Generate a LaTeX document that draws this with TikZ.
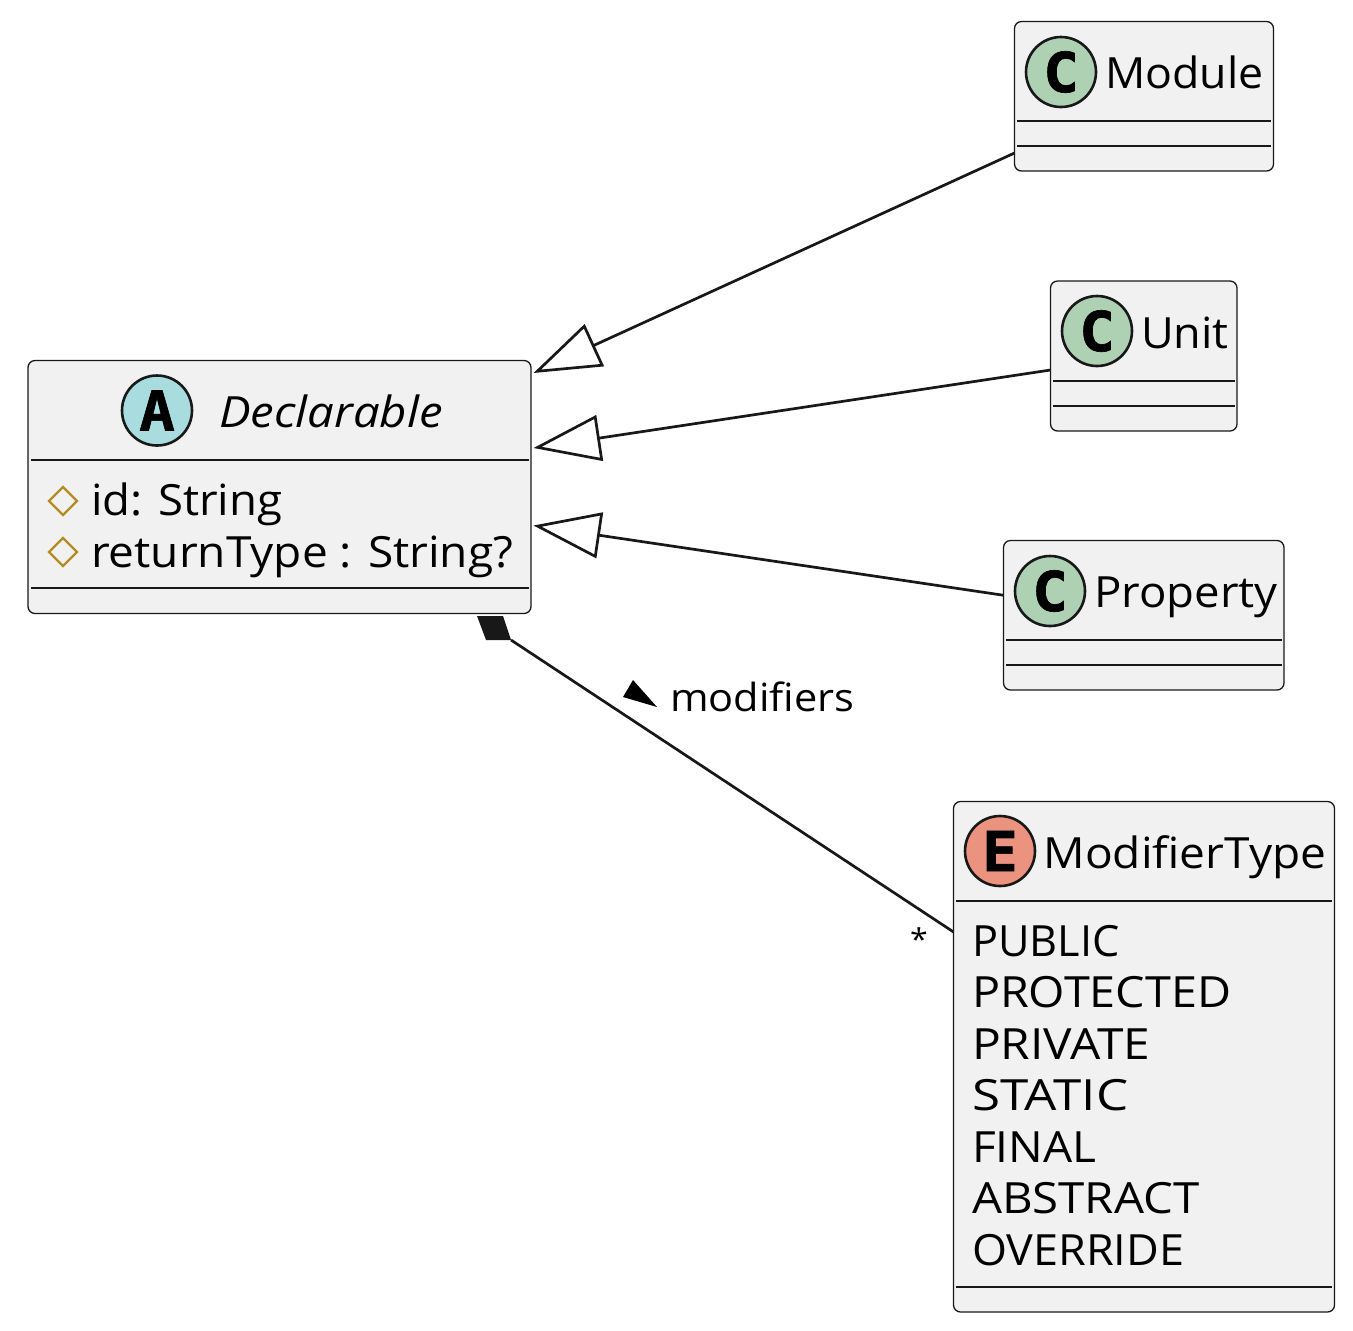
\documentclass[tikz,border=0pt]{standalone}
\usepackage{fontspec}
\usetikzlibrary{arrows.meta,shapes.geometric}
\setmainfont{Open Sans}[FakeStretch=1.07,ItalicFeatures={FakeStretch=1.09}]
\newfontfamily\circfont{DejaVu Sans Mono}[BoldFeatures={FakeBold=1.2,FakeStretch=1.08}]
\definecolor{boxfill}{HTML}{F1F1F1}
\definecolor{ink}{HTML}{181818}
\definecolor{clsgreen}{HTML}{ADD1B2}
\definecolor{absblue}{HTML}{A9DCDF}
\definecolor{enumred}{HTML}{EB937F}
\definecolor{visgold}{HTML}{B38D22}
\newcommand{\wide}[2]{\scalebox{#1}[1]{#2}}
\tikzset{
  umlbox/.style={draw=ink,fill=boxfill,line width=0.65pt,rounded corners=3.5pt,inner sep=0pt,outer sep=0pt,rectangle},
  divider/.style={draw=ink,line width=0.55pt},
  badge/.style={draw=ink,line width=1.3pt,ellipse,inner sep=0pt,outer sep=0pt},
  badgeletter/.style={inner sep=0pt,outer sep=0pt,font=\circfont\bfseries\fontsize{27.5}{27.5}\selectfont},
  label/.style={anchor=base west,inner sep=0pt,outer sep=0pt,font=\fontsize{21.5}{21.5}\selectfont},
  inherit/.style={draw=ink,line width=1.35pt,-{Triangle[open,length=33.5pt,width=23pt,line width=1.35pt]}},
  compose/.style={draw=ink,line width=1.35pt},
  vis/.style={draw=visgold,line width=1.1pt},
}
\begin{document}
\begin{tikzpicture}[x=0.5pt,y=-0.5pt]
\useasboundingbox (0,0) rectangle (1353,1330);
% boxes
\node[umlbox,minimum width=129.5pt,minimum height=74.75pt] (module) at (1144,96.25) {};
\node[umlbox,minimum width=93.25pt,minimum height=75pt] (unit) at (1143.75,356) {};
\node[umlbox,minimum width=140.25pt,minimum height=74.75pt] (property) at (1143.75,615.25) {};
\node[umlbox,minimum width=190.5pt,minimum height=255.25pt] (modtype) at (1144,1056.75) {};
\node[umlbox,minimum width=251.5pt,minimum height=126.5pt] (decl) at (279.5,487) {};
% dividers
\draw[divider] (1017,121) -- (1271,121);
\draw[divider] (1017,146) -- (1271,146);
\draw[divider] (1053,381) -- (1235,381);
\draw[divider] (1053,406) -- (1235,406);
\draw[divider] (1006,640) -- (1282,640);
\draw[divider] (1006,665) -- (1282,665);
\draw[divider] (956,901) -- (1332,901);
\draw[divider] (956,1287) -- (1332,1287);
\draw[divider] (31,460) -- (529,460);
\draw[divider] (31,588) -- (529,588);
% badges
\node[badge,fill=clsgreen,minimum width=35pt,minimum height=35pt] (cm) at (1061,72) {};
\node[badgeletter] (lm) at (1061,72) {C};
\node[badge,fill=clsgreen,minimum width=35pt,minimum height=35pt] (cu) at (1097,331) {};
\node[badgeletter] (lu) at (1097,331) {C};
\node[badge,fill=clsgreen,minimum width=35pt,minimum height=35pt] (cp) at (1050,591) {};
\node[badgeletter] (lp) at (1050,591) {C};
\node[badge,fill=enumred,minimum width=35pt,minimum height=35pt] (ce) at (1000,851) {};
\node[badgeletter] (le) at (1000,851) {E};
\node[badge,fill=absblue,minimum width=35pt,minimum height=35pt] (ca) at (157,410.5) {};
\node[badgeletter] (la) at (157,410.5) {A};
% titles
\node[label] (tm) at (1105,88.5) {\wide{0.97}{Module}};
\node[label] (tu) at (1141,348.5) {\wide{0.977}{Unit}};
\node[label] (tp) at (1094,607.5) {\wide{0.99}{Property}};
\node[label] (te) at (1043.5,868) {ModifierType};
\node[label,font=\fontsize{21.5}{21.5}\selectfont\itshape] (td) at (219,427.5) {\wide{1.01}{Declarable}};
% attributes
\draw[vis] (49,501) -- (63,487) -- (77,501) -- (63,515) -- cycle;
\draw[vis] (49,552) -- (63,538) -- (77,552) -- (63,566) -- cycle;
\node[label] (a1) at (91,515.5) {\wide{0.99}{id: String}};
\node[label] (a2) at (91,567) {returnType : String?};
% enum values
\node[label] (e1) at (972,956) {\wide{0.94}{PUBLIC}};
\node[label] (e2) at (972,1007.5) {\wide{1.015}{PROTECTED}};
\node[label] (e3) at (972,1059) {\wide{1.04}{PRIVATE}};
\node[label] (e4) at (972,1110.5) {\wide{1.11}{STATIC}};
\node[label] (e5) at (972,1162) {FINAL};
\node[label] (e6) at (972,1213.5) {\wide{1.03}{ABSTRACT}};
\node[label] (e7) at (972,1265) {\wide{0.977}{OVERRIDE}};
% connectors
\draw[inherit] ([yshift=9pt]module.south west) -- ([xshift=1.25pt,yshift=-6.25pt]decl.north east);
\draw[inherit] ([yshift=-7pt]unit.west) -- ([xshift=1.25pt,yshift=-43.75pt]decl.north east);
\draw[inherit] ([yshift=10pt]property.west) -- ([xshift=1.25pt,yshift=-82.5pt]decl.north east);
\draw[compose] ([xshift=-10pt,yshift=-13.25pt]decl.south east) -- ([yshift=62.4pt]modtype.west);
\fill[ink] (477,616) -- (503,616) -- (511,640) -- (486,640) -- cycle;
% association label
\fill[black] (633,680) -- (657,707) -- (623,697) -- cycle;
\node[label,font=\fontsize{19.4}{19.4}\selectfont] (mlabel) at (670,711) {modifiers};
\node[inner sep=0pt,font=\fontsize{15}{15}\selectfont] (star) at (919,939.5) {*};
\end{tikzpicture}
\end{document}
